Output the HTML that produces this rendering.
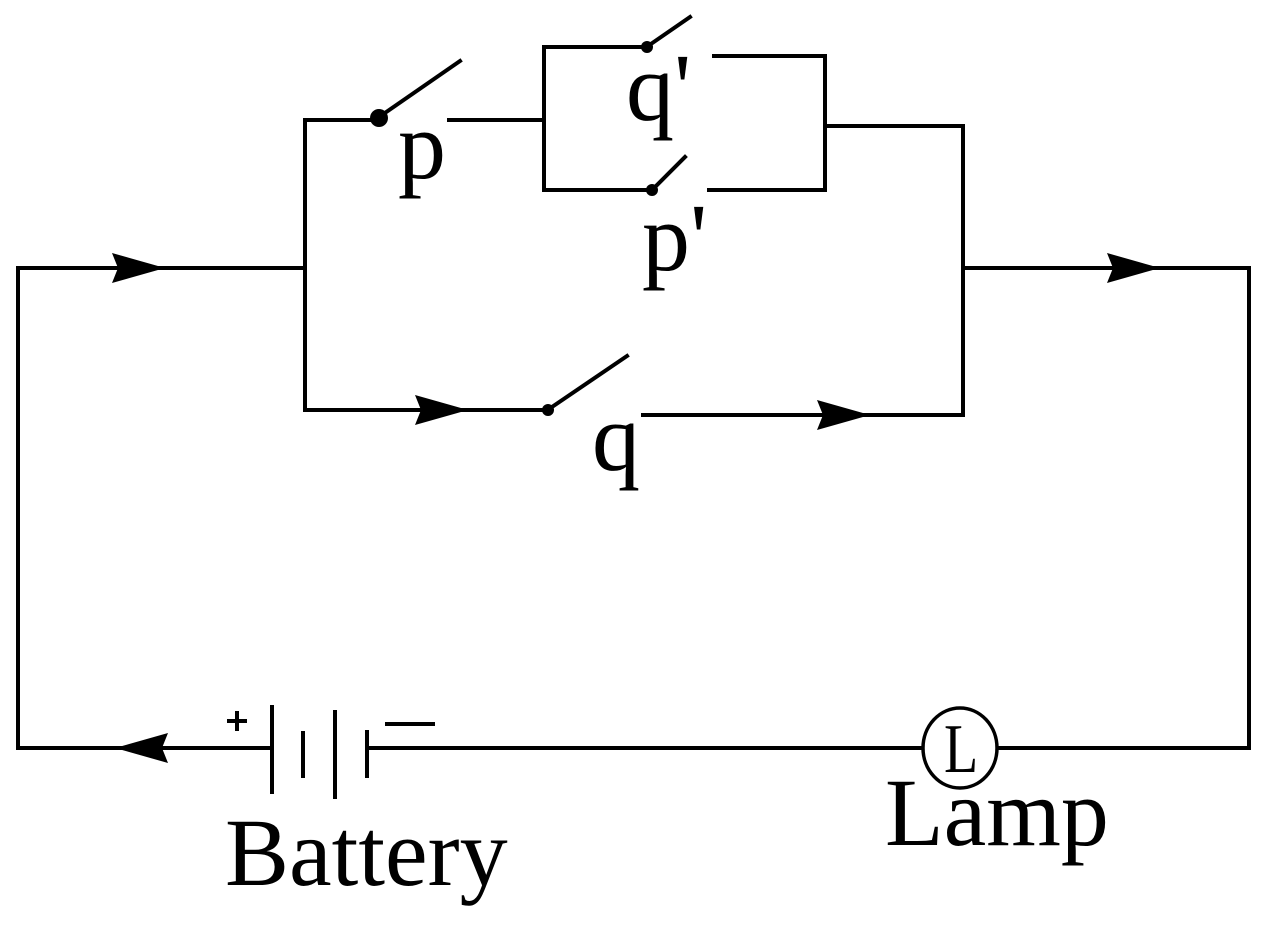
<!DOCTYPE html>
<html><head><style>html,body{margin:0;padding:0;background:#fff}svg{display:block}
.t{font-family:"Liberation Serif","DejaVu Serif",serif;fill:#000}</style></head>
<body>
<svg width="1269" height="932" viewBox="0 0 1269 932" xmlns="http://www.w3.org/2000/svg">
<g stroke="#000" stroke-width="4" fill="none" stroke-linecap="square">
<polyline points="18,748 18,268 305,268"/>
<line x1="305" y1="120" x2="305" y2="410"/>
<line x1="305" y1="120" x2="378" y2="120"/>
<line x1="382" y1="115" x2="460" y2="61"/>
<line x1="449" y1="120" x2="544" y2="120"/>
<polyline points="647,47 544,47 544,190 652,190"/>
<line x1="648" y1="46" x2="690" y2="17"/>
<polyline points="714,56 825,56 825,190 709,190"/>
<line x1="653" y1="189" x2="685" y2="157"/>
<polyline points="825,126 963,126 963,415"/>
<polyline points="963,268 1249,268 1249,748 998,748"/>
<line x1="305" y1="410" x2="548" y2="410"/>
<line x1="549" y1="409" x2="627" y2="356"/>
<line x1="643" y1="415" x2="963" y2="415"/>
<line x1="18" y1="748" x2="272" y2="748"/>
<line x1="367" y1="748" x2="922" y2="748"/>
<line x1="272" y1="707" x2="272" y2="792"/>
<line x1="303" y1="733" x2="303" y2="776"/>
<line x1="335" y1="712" x2="335" y2="797"/>
<line x1="367" y1="732" x2="367" y2="776"/>
<line x1="387" y1="724" x2="433" y2="724"/>
<line x1="229" y1="721" x2="245" y2="721"/>
<line x1="237" y1="713" x2="237" y2="729"/>
<ellipse cx="960" cy="748" rx="37" ry="40" stroke-width="3.5"/>
</g>
<g fill="#000">
<circle cx="379" cy="118" r="9"/>
<circle cx="647" cy="47" r="6"/>
<circle cx="652" cy="190" r="6"/>
<circle cx="548" cy="410" r="6"/>
<polygon points="165,268 112,253 118,268 112,283"/>
<polygon points="468,410 415,395 421,410 415,425"/>
<polygon points="870,415 817,400 823,415 817,430"/>
<polygon points="1160,268 1107,253 1113,268 1107,283"/>
<polygon points="115,748 168,733 162,748 168,763"/>
</g>
<text class="t" x="398" y="178" font-size="96">p</text>
<text class="t" x="626" y="120" font-size="96">q'</text>
<text class="t" x="642" y="270" font-size="96">p'</text>
<text class="t" x="592" y="470" font-size="96">q</text>
<text class="t" x="225" y="885" font-size="96">Battery</text>
<text class="t" x="885" y="845" font-size="96">Lamp</text>
<text class="t" transform="translate(944,772) scale(0.8,1)" font-size="70">L</text>
</svg>
</body></html>
